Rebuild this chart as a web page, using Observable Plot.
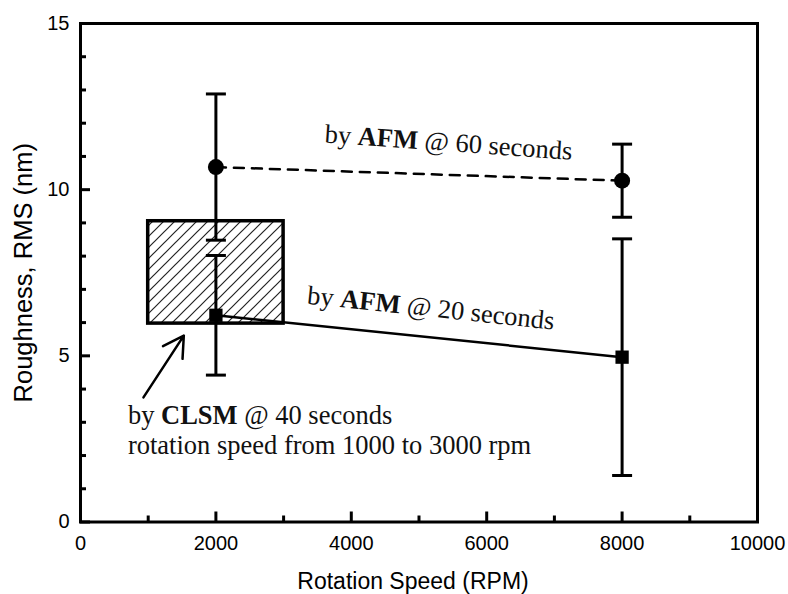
<!DOCTYPE html>
<html>
<head>
<meta charset="utf-8">
<script src="https://cdn.jsdelivr.net/npm/d3@7"></script>
<script src="https://cdn.jsdelivr.net/npm/@observablehq/plot@0.6"></script>
<style>
  html, body { margin: 0; padding: 0; background: #fff; }
</style>
</head>
<body>
<div id="chart"></div>
<script>
// Surface roughness against spin-rinse rotation speed
const speeds = [2000, 8000];
const afm60 = [10.68, 10.27];      // AFM, 60 s
const afm60Err = [2.2, 1.1];
const afm20 = [6.22, 4.96];        // AFM, 20 s
const afm20Err = [1.8, 3.56];
const clsmSpeedRange = [1000, 3000];        // CLSM, 40 s, rpm span
const clsmRoughnessRange = [5.97, 9.05];    // CLSM, 40 s, nm span

const xTicks = [0, 2000, 4000, 6000, 8000, 10000];
const xMinorTicks = [1000, 3000, 5000, 7000, 9000];
const yTicks = [0, 5, 10, 15];
const yMinorTicks = [1, 2, 3, 4, 6, 7, 8, 9, 11, 12, 13, 14];

const series60 = speeds.map((x, i) => ({x, y: afm60[i], lo: afm60[i] - afm60Err[i], hi: afm60[i] + afm60Err[i]}));
const series20 = speeds.map((x, i) => ({x, y: afm20[i], lo: afm20[i] - afm20Err[i], hi: afm20[i] + afm20Err[i]}));
const clsmBox = [{x1: clsmSpeedRange[0], x2: clsmSpeedRange[1], y1: clsmRoughnessRange[0], y2: clsmRoughnessRange[1]}];
const caps = [...series60, ...series20].flatMap(d => [{x: d.x, y: d.lo}, {x: d.x, y: d.hi}]);

// annotation anchors (data units)
const notes = [
  {text: "by AFM @ 60 seconds", x: 3600, y: 11.42, rotate: 4},
  {text: "by AFM @ 20 seconds", x: 3340, y: 6.57, rotate: 6},
  {text: "by CLSM @ 40 seconds", x: 700, y: 2.96, rotate: 0},
  {text: "rotation speed from 1000 to 3000 rpm", x: 700, y: 2.04, rotate: 0}
];
const pointer = [{x1: 930, y1: 3.75, x2: 1526, y2: 5.61}];

// horizontal bar used as error-bar cap
const capSymbol = {
  draw(context, size) {
    const w = Math.sqrt(size / Math.PI);
    context.moveTo(-w, 0);
    context.lineTo(w, 0);
  }
};

const serif = "'Liberation Serif', 'Times New Roman', serif";

const chart = Plot.plot({
  width: 788,
  height: 594,
  marginLeft: 80,
  marginRight: 31,
  marginTop: 23,
  marginBottom: 72.5,
  x: {domain: [0, 10000]},
  y: {domain: [0, 15]},
  style: {fontFamily: "'Liberation Sans', Arial, sans-serif", background: "#fff", color: "#000"},
  marks: [
    // hatched CLSM range
    Plot.rect(clsmBox, {x1: "x1", x2: "x2", y1: "y1", y2: "y2", fill: "url(#hatch)", stroke: "#000", strokeWidth: 3.5}),
    // error bars
    Plot.ruleX(series60, {x: "x", y1: "lo", y2: "hi", stroke: "#000", strokeWidth: 3}),
    Plot.ruleX(series20, {x: "x", y1: "lo", y2: "hi", stroke: "#000", strokeWidth: 3}),
    Plot.dot(caps, {x: "x", y: "y", symbol: capSymbol, r: 10, stroke: "#000", strokeWidth: 3, fill: "none"}),
    // connecting lines
    Plot.line(series60, {x: "x", y: "y", stroke: "#000", strokeWidth: 2.5, strokeDasharray: "10,8"}),
    Plot.line(series20, {x: "x", y: "y", stroke: "#000", strokeWidth: 2.5}),
    // markers
    Plot.dot(series60, {x: "x", y: "y", r: 8, fill: "#000", symbol: "circle"}),
    Plot.dot(series20, {x: "x", y: "y", r: 7.5, fill: "#000", symbol: "square"}),
    // arrow to the CLSM box
    Plot.arrow(pointer, {x1: "x1", y1: "y1", x2: "x2", y2: "y2", stroke: "#000", strokeWidth: 2.5, headLength: 14}),
    // annotations
    Plot.text(notes, {x: "x", y: "y", text: "text", rotate: "rotate", textAnchor: "start", lineAnchor: "bottom",
      fontSize: 26.5, fontFamily: serif, fill: "#111"}),
    // inward ticks
    Plot.axisX(xTicks, {tickSize: -10, strokeWidth: 3, tickFormat: () => "", label: null}),
    Plot.axisX(xMinorTicks, {tickSize: -6, strokeWidth: 3, tickFormat: () => "", label: null}),
    Plot.axisY(yTicks, {tickSize: -10, strokeWidth: 3, tickFormat: () => "", label: null}),
    Plot.axisY(yMinorTicks, {tickSize: -6, strokeWidth: 3, tickFormat: () => "", label: null}),
    // tick labels
    Plot.axisX(xTicks, {tickSize: 0, tickPadding: 14, fontSize: 20, label: null, tickFormat: d => String(d)}),
    Plot.axisY(yTicks, {tickSize: 0, tickPadding: 11, fontSize: 20, label: null}),
    // axis titles
    Plot.text(["Rotation Speed (RPM)"], {frameAnchor: "bottom", textAnchor: "middle", lineAnchor: "bottom", dy: 67, dx: -6, fontSize: 23}),
    Plot.text(["Roughness, RMS (nm)"], {frameAnchor: "left", textAnchor: "middle", lineAnchor: "middle", dx: -57, rotate: -90, fontSize: 25.5}),
    Plot.frame({stroke: "#000", strokeWidth: 3})
  ]
});

// hatch pattern for the CLSM box
const defs = d3.select(chart).insert("defs", ":first-child");
defs.append("pattern")
  .attr("id", "hatch")
  .attr("patternUnits", "userSpaceOnUse")
  .attr("width", 11)
  .attr("height", 11)
  .append("path")
  .attr("d", "M-2,2L2,-2M0,11L11,0M9,13L13,9")
  .attr("stroke", "#222")
  .attr("stroke-width", 1.2);

// bold instrument names inside annotations
function boldWords(root, words) {
  const re = new RegExp(`(${words.join("|")})`);
  const walker = document.createTreeWalker(root, NodeFilter.SHOW_TEXT);
  const nodes = [];
  while (walker.nextNode()) nodes.push(walker.currentNode);
  for (const node of nodes) {
    if (!re.test(node.nodeValue)) continue;
    const frag = document.createDocumentFragment();
    for (const part of node.nodeValue.split(re)) {
      if (!part) continue;
      if (words.includes(part)) {
        const ts = document.createElementNS("http://www.w3.org/2000/svg", "tspan");
        ts.setAttribute("font-weight", "bold");
        ts.textContent = part;
        frag.appendChild(ts);
      } else {
        frag.appendChild(document.createTextNode(part));
      }
    }
    node.parentNode.replaceChild(frag, node);
  }
}
boldWords(chart, ["AFM", "CLSM"]);

document.getElementById("chart").appendChild(chart);
</script>
</body>
</html>
